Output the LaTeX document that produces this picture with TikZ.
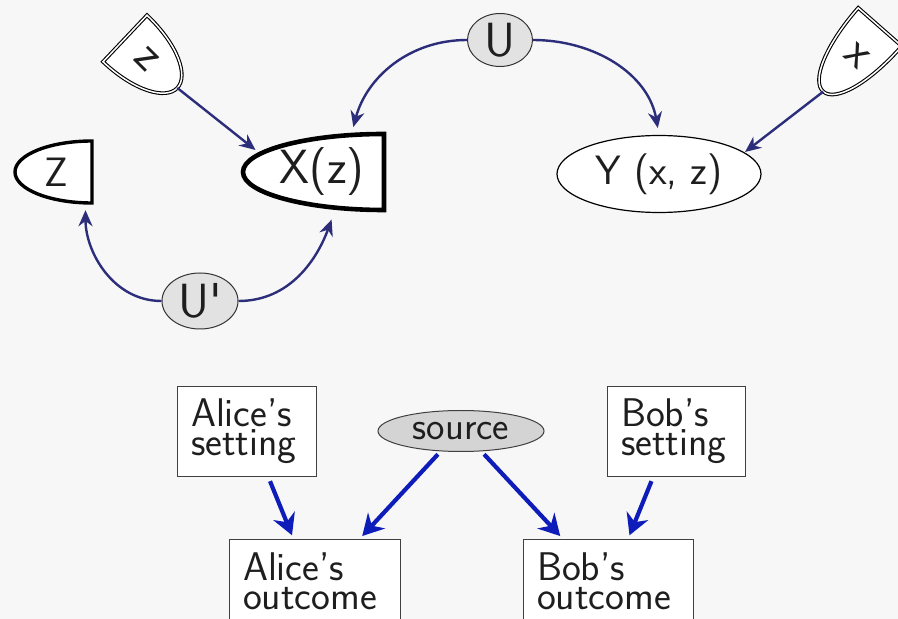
\documentclass[tikz,border=0pt]{standalone}
\usetikzlibrary{arrows.meta,shapes.geometric}
\renewcommand{\familydefault}{\sfdefault}
\definecolor{dunkelblau}{RGB}{44,46,122}
\definecolor{kraeftigblau}{RGB}{14,28,186}
\definecolor{hintergrund}{RGB}{247,247,247}
\definecolor{quellgrau}{RGB}{212,212,212}
\definecolor{latentgrau}{RGB}{226,226,226}
\definecolor{schrift}{RGB}{30,30,30}

\begin{document}
\begin{tikzpicture}[x=1pt, y=1pt, text=schrift,
    gross/.style={font=\fontsize{48}{52}\selectfont},
    mittel/.style={font=\fontsize{41}{44}\selectfont},
    klein/.style={font=\fontsize{48}{50}\selectfont},
    kante/.style={-{Stealth[length=16pt,width=14pt]}, line width=2.4pt, dunkelblau},
    dick/.style={-{Stealth[length=21pt,width=23pt]}, line width=4.2pt, kraeftigblau, shorten <=4pt, shorten >=4pt},
    latent/.style={ellipse, draw=black!80, line width=1pt, fill=latentgrau, inner sep=0pt},
    wahl/.style={draw=black, line width=1.1pt, double=white, double distance=1.5pt, fill=white},
    kasten/.style={rectangle, draw=black!75, line width=1pt, fill=white, align=left, inner xsep=14pt, inner ysep=13pt, font=\fontsize{40}{29}\selectfont}]

  \clip (0,0) rectangle (898,619);
  \fill[hintergrund] (0,0) rectangle (898,619);

  % Messungen
  \draw[line width=3.4pt, fill=white] (92,478) -- (92,416) arc[start angle=270, end angle=90, x radius=77, y radius=31] -- cycle;
  \node[mittel, minimum width=77pt, minimum height=62pt] (Z) at (53.5,447) {\hspace{5pt}Z};
  \draw[line width=4.6pt, fill=white] (384,485) -- (384,409) arc[start angle=270, end angle=90, x radius=141, y radius=38] -- cycle;
  \node[gross, minimum width=141pt, minimum height=76pt] (X) at (313.5,447) {\hspace{17pt}X(z)};
  \node[mittel, ellipse, draw, line width=1.2pt, fill=white, minimum width=204pt, minimum height=77pt, inner sep=0pt] (Y) at (659,445) {Y (x, z)};

  % latente Variablen
  \node[latent, gross, minimum width=65pt, minimum height=53pt] (U) at (500,579) {U};
  \node[latent, gross, minimum width=76pt, minimum height=56pt] (Ustrich) at (200,318) {U\textquotesingle};

  % Einstellung z
  \begin{scope}[shift={(125,580.5)}, rotate=46.6]
    \draw[wahl] (-32,0) -- (32,0) .. controls (32,-42) and (17,-72) .. (0,-72) .. controls (-17,-72) and (-32,-42) .. (-32,0) -- cycle;
    \coordinate (zspitze) at (0,-72);
    \node[klein, rotate=-45] (zw) at (0,-30) {z};
  \end{scope}

  % Einstellung x
  \begin{scope}[shift={(880,592)}, rotate=-41.3]
    \draw[wahl] (-29,0) -- (29,0) .. controls (29,-50) and (16,-86) .. (0,-86) .. controls (-16,-86) and (-29,-50) .. (-29,0) -- cycle;
    \coordinate (xspitze) at (0,-86);
    \node[klein, rotate=-42] (xw) at (2,-37) {x};
  \end{scope}

  % Pfeile oben
  \draw[kante, shorten >=7pt] (U.west) to[out=180, in=75] ([xshift=38pt]X.north);
  \draw[kante, shorten >=7pt] (U.east) to[out=0, in=100] (Y.north);
  \draw[kante, shorten >=7pt] (Ustrich.west) to[out=180, in=-90] ([xshift=32pt]Z.south);
  \draw[kante, shorten >=10pt] (Ustrich.east) to[out=0, in=-110] ([xshift=21.5pt]X.south);
  \draw[kante] (zspitze) -- ([shift={(-58,22)}]X.center);
  \draw[kante] (xspitze) -- ([shift={(86,22)}]Y.center);

  % Bell-Experiment
  \node[kasten, text width=111pt, minimum height=89pt] (aset) at (246.5,187.5) {Alice's\\setting};
  \node[kasten, text width=110pt, minimum height=89pt] (bset) at (676,187.5) {Bob's\\setting};
  \node[ellipse, draw=black!75, line width=1pt, fill=quellgrau, inner sep=0pt, minimum width=166pt, minimum height=41pt, font=\fontsize{39}{40}\selectfont] (src) at (461,188) {source};
  \node[kasten, anchor=north, text width=143pt, text depth=40pt] (aout) at (314.5,80) {Alice's\\outcome};
  \node[kasten, anchor=north, text width=142pt, text depth=40pt] (bout) at (608,80) {Bob's\\outcome};

  % Pfeile unten
  \draw[dick] ([xshift=22pt]aset.south) -- ([xshift=-21pt]aout.north);
  \draw[dick] (src.225) -- ([xshift=45pt]aout.north);
  \draw[dick] (src.315) -- ([xshift=-45pt]bout.north);
  \draw[dick] ([xshift=-23pt]bset.south) -- ([xshift=20pt]bout.north);
\end{tikzpicture}
\end{document}
